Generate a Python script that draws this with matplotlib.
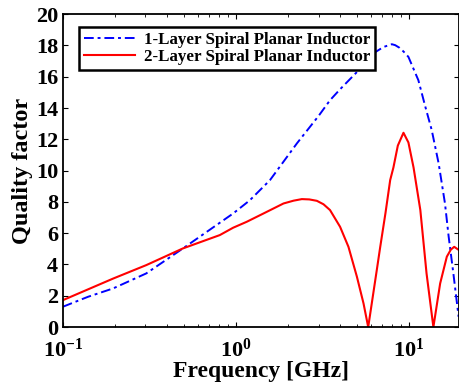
import matplotlib
matplotlib.use('Agg')
import matplotlib.pyplot as plt
from matplotlib.ticker import FuncFormatter, LogLocator, NullFormatter
import numpy as np

# values (frequency in GHz, quality factor)
freq_1layer = [0.1, 0.14, 0.195, 0.303, 0.494, 0.962, 1.2, 1.57, 2.25, 3.0, 3.49,
               3.99, 4.99, 6.22, 7.1, 7.94, 8.3, 8.8, 9.3, 9.9, 11.3, 12.4,
               13.5, 14.8, 16.1, 16.9, 18.0, 19.3]
q_1layer = [1.3, 1.94, 2.47, 3.43, 5.03, 7.26, 8.1, 9.39, 11.75, 13.5, 14.5,
            15.2, 16.3, 17.5, 17.9, 18.08, 18.02, 17.85, 17.6, 17.27, 15.78, 14.08,
            12.59, 10.46, 7.9, 5.8, 3.43, 0.66]

freq_2layer = [0.1, 0.195, 0.303, 0.494, 0.806, 0.962, 1.153, 1.44, 1.88, 2.15, 2.4,
               2.65, 2.93, 3.2, 3.49, 3.99, 4.46, 4.99, 5.45, 5.8, 6.5, 6.8, 7.3,
               7.77, 8.11, 8.6, 9.27, 9.9, 10.6, 11.6, 12.6, 13.8, 15.1, 16.5,
               17.4, 18.2, 19.4]
q_2layer = [1.72, 3.1, 3.96, 5.03, 5.88, 6.35, 6.73, 7.26, 7.9, 8.08, 8.18,
            8.16, 8.07, 7.85, 7.48, 6.41, 5.13, 3.22, 1.51, 0.0, 3.64, 5.1, 7.3,
            9.4, 10.2, 11.6, 12.42, 11.8, 10.2, 7.48, 3.43, 0.0, 2.79, 4.5,
            4.95, 5.13, 4.92]

labels = ['1-Layer Spiral Planar Inductor', '2-Layer Spiral Planar Inductor']

plt.rcParams['font.family'] = 'Liberation Serif'
plt.rcParams['font.weight'] = 'bold'
plt.rcParams['mathtext.fontset'] = 'custom'
plt.rcParams['mathtext.rm'] = 'Liberation Serif:bold'
plt.rcParams['mathtext.bf'] = 'Liberation Serif:bold'

fig = plt.figure(figsize=(4.59, 3.83), dpi=100)
ax = fig.add_axes([0.137, 0.146, 0.863, 0.817])

ax.plot(freq_1layer, q_1layer, color='blue', lw=1.4, dashes=(5, 2, 1.5, 2), label=labels[0])
ax.plot(freq_2layer, q_2layer, color='red', lw=1.5, label=labels[1])

ax.set_xscale('log')
ax.set_xlim(0.1, 19.4)
ax.set_ylim(0, 20)
ax.set_yticks(range(0, 21, 2))
ax.xaxis.set_major_locator(LogLocator(base=10))
ax.xaxis.set_minor_locator(LogLocator(base=10, subs=np.arange(2, 10)))
ax.xaxis.set_minor_formatter(NullFormatter())
ax.xaxis.set_major_formatter(FuncFormatter(lambda v, p: r'$\mathbf{10^{%d}}$' % round(np.log10(v))))

ax.tick_params(which='both', direction='in', top=True, right=True, labelsize=16)
ax.tick_params(axis='x', pad=8)
for s in ax.spines.values():
    s.set_linewidth(1.3)

ax.set_xlabel('Frequency [GHz]', fontsize=17, fontweight='bold', labelpad=0)
ax.set_ylabel('Quality factor', fontsize=17.5, fontweight='bold', labelpad=2)

leg = ax.legend(loc='upper left', bbox_to_anchor=(0.02, 0.985), fontsize=12.2, fancybox=False,
                framealpha=1, edgecolor='black', handlelength=3, borderpad=0.3,
                labelspacing=0.05, handletextpad=0.5)
leg.get_frame().set_linewidth(1.8)
for t in leg.get_texts():
    t.set_fontweight('bold')

fig.savefig('out.png', dpi=100)
